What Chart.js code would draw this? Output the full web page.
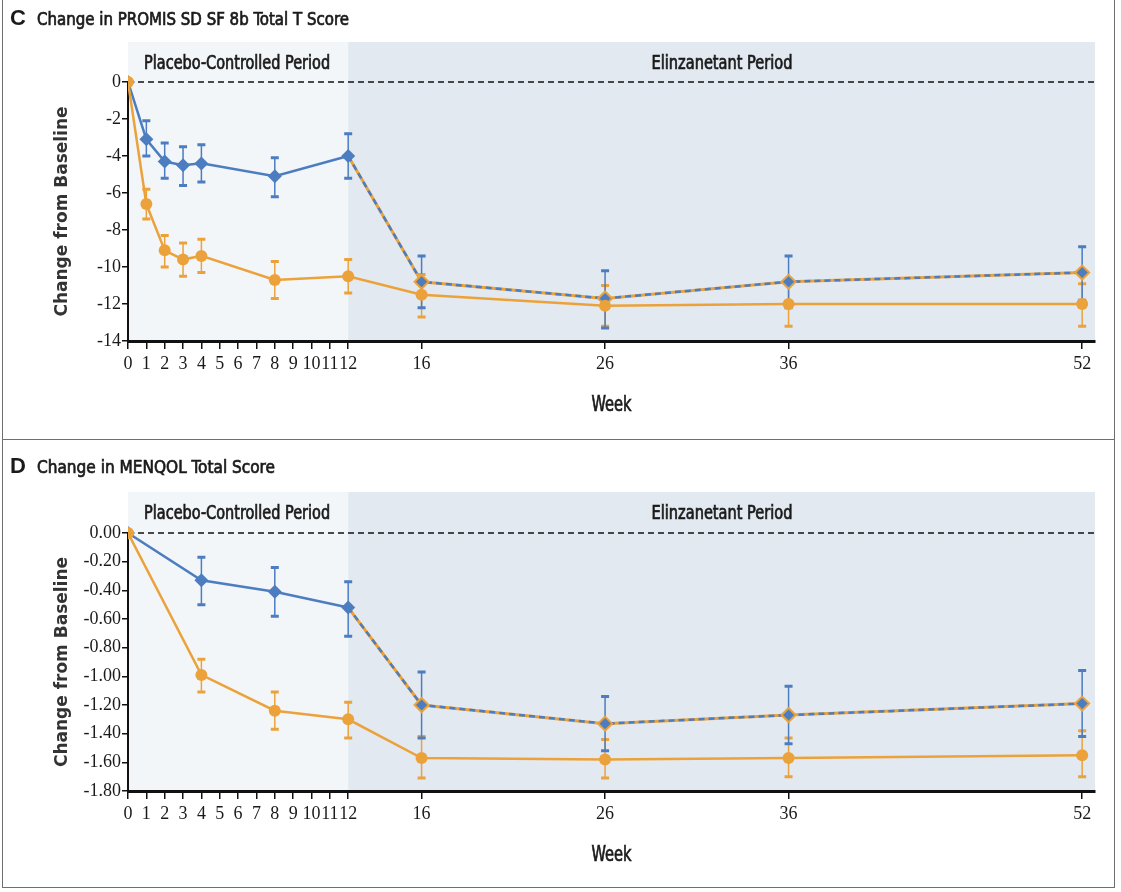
<!DOCTYPE html>
<html>
<head>
<meta charset="utf-8">
<script src="https://cdn.jsdelivr.net/npm/chart.js@4.4.0/dist/chart.umd.min.js"></script>
<style>
  body { margin: 0; background: #fff; width: 1121px; height: 892px; overflow: hidden; position: relative; }
  #moldura { position: absolute; left: 2px; top: -2px; width: 1113px; height: 890px; border: 1.5px solid #6f6f6f; box-sizing: border-box; }
  #divisor { position: absolute; left: 2px; top: 439px; width: 1113px; height: 0; border-top: 1.5px solid #6f6f6f; }
  canvas { position: absolute; left: 0; }
</style>
</head>
<body>
<div id="moldura"></div>
<div id="divisor"></div>
<canvas id="painelC" width="1121" height="440" style="top:0"></canvas>
<canvas id="painelD" width="1121" height="448" style="top:440px"></canvas>
<script>
// === DADOS ===
const semanasTicks = [0, 1, 2, 3, 4, 5, 6, 7, 8, 9, 10, 11, 12, 16, 26, 36, 52];

// Painel C - PROMIS SD SF 8b
const semanasC = [0, 1, 2, 3, 4, 8, 12, 16, 26, 36, 52];
const placeboC = [0, -3.1, -4.3, -4.5, -4.4, -5.1, -4.0, -10.8, -11.7, -10.8, -10.3];
const placeboCInf = [null, -4.0, -5.2, -5.6, -5.4, -6.2, -5.2, -12.2, -13.3, -12.2, -11.8];
const placeboCSup = [null, -2.1, -3.3, -3.5, -3.4, -4.1, -2.8, -9.4, -10.2, -9.4, -8.9];
const elinzC = [0, -6.6, -9.1, -9.6, -9.4, -10.7, -10.5, -11.5, -12.1, -12.0, -12.0];
const elinzCInf = [null, -7.4, -10.0, -10.5, -10.3, -11.7, -11.4, -12.7, -13.2, -13.2, -13.2];
const elinzCSup = [null, -5.8, -8.3, -8.7, -8.5, -9.7, -9.6, -10.4, -11.0, -10.8, -10.9];
const ticksYC = [0, -2, -4, -6, -8, -10, -12, -14];

// Painel D - MENQOL
const semanasD = [0, 4, 8, 12, 16, 26, 36, 52];
const placeboD = [0, -0.33, -0.41, -0.52, -1.20, -1.33, -1.27, -1.19];
const placeboDInf = [null, -0.50, -0.58, -0.72, -1.43, -1.52, -1.47, -1.42];
const placeboDSup = [null, -0.17, -0.24, -0.34, -0.97, -1.14, -1.07, -0.96];
const elinzD = [0, -0.99, -1.24, -1.30, -1.57, -1.58, -1.57, -1.55];
const elinzDInf = [null, -1.11, -1.37, -1.43, -1.71, -1.71, -1.70, -1.70];
const elinzDSup = [null, -0.88, -1.11, -1.18, -1.42, -1.44, -1.43, -1.38];
const ticksYD = [0, -0.2, -0.4, -0.6, -0.8, -1.0, -1.2, -1.4, -1.6, -1.8];

const azul = "#4b7dc0";
const laranja = "#eca23a";
const fonteEstreita = '"Liberation Sans Narrow", "DejaVu Sans Condensed", sans-serif';
const fonteTicks = { family: '"Liberation Serif", serif', size: 18 };

// texto "meio negrito": preenche e passa um traco fino por cima
function textoMedio(ctx, texto, x, y, larg) {
  ctx.fillText(texto, x, y, larg);
  ctx.lineWidth = 0.7;
  ctx.strokeStyle = ctx.fillStyle;
  ctx.strokeText(texto, x, y, larg);
}

// === PLUGINS ===
const decoracao = {
  id: "decoracao",
  beforeDraw(chart) {
    const { ctx, chartArea: a, scales: { x, y } } = chart;
    const x12 = x.getPixelForValue(12);
    ctx.save();
    ctx.fillStyle = "#f3f6f9";
    ctx.fillRect(a.left, a.top, x12 - a.left, a.bottom - a.top);
    ctx.fillStyle = "#e2e9f0";
    ctx.fillRect(x12, a.top, a.right - x12, a.bottom - a.top);
    const y0 = y.getPixelForValue(0);
    ctx.strokeStyle = "#111";
    ctx.lineWidth = 1.5;
    ctx.setLineDash([6, 4]);
    ctx.beginPath();
    ctx.moveTo(a.left, y0);
    ctx.lineTo(a.right, y0);
    ctx.stroke();
    ctx.restore();
  },
  beforeDatasetsDraw(chart) {
    const { ctx, chartArea: a, scales: { x, y } } = chart;
    ctx.save();
    // eixo Y so a partir do zero
    ctx.strokeStyle = "#111";
    ctx.lineWidth = 2;
    ctx.beginPath();
    ctx.moveTo(a.left, y.getPixelForValue(0));
    ctx.lineTo(a.left, a.bottom);
    ctx.stroke();

    // barras de erro
    chart.data.datasets.forEach(ds => {
      if (!ds.erroInf) return;
      ctx.strokeStyle = ds.borderColor;
      ds.data.forEach((p, i) => {
        if (ds.erroInf[i] === null) return;
        const px = x.getPixelForValue(p.x);
        const yi = y.getPixelForValue(ds.erroInf[i]);
        const ys = y.getPixelForValue(ds.erroSup[i]);
        ctx.lineWidth = 1.5;
        ctx.beginPath();
        ctx.moveTo(px, yi);
        ctx.lineTo(px, ys);
        ctx.stroke();
        ctx.lineWidth = 3;
        ctx.beginPath();
        ctx.moveTo(px - 4, yi);
        ctx.lineTo(px + 4, yi);
        ctx.moveTo(px - 4, ys);
        ctx.lineTo(px + 4, ys);
        ctx.stroke();
      });
    });
    ctx.restore();
  },
  afterDraw(chart, args, opts) {
    const { ctx, chartArea: a, scales: { x, y } } = chart;
    ctx.save();
    ctx.fillStyle = "#1a1a1a";
    ctx.textBaseline = "alphabetic";
    ctx.textAlign = "left";
    ctx.font = 'bold 22px "Liberation Sans", sans-serif';
    ctx.fillText(opts.letra, 10, opts.tituloY);
    ctx.font = "18px " + fonteEstreita;
    textoMedio(ctx, opts.titulo, 37, opts.tituloY, opts.tituloLargura);

    // rotulos dos periodos
    ctx.textAlign = "center";
    ctx.font = "19px " + fonteEstreita;
    textoMedio(ctx, "Placebo-Controlled Period", (a.left + x.getPixelForValue(12)) / 2 - 1, a.top + 27, 186);
    textoMedio(ctx, "Elinzanetant Period", 722, a.top + 27, 141);

    // titulo do eixo X
    ctx.font = "21px " + fonteEstreita;
    textoMedio(ctx, "Week", (a.left + a.right) / 2, a.bottom + 70, 40);

    // titulo do eixo Y
    const yMeio = (y.getPixelForValue(0) + a.bottom) / 2;
    ctx.translate(62, yMeio);
    ctx.rotate(-Math.PI / 2);
    ctx.textBaseline = "middle";
    ctx.fillStyle = "#333";
    ctx.font = 'bold 18px "DejaVu Sans", sans-serif';
    ctx.fillText("Change from Baseline", 0, 0, 210);
    ctx.restore();
  }
};

function pontos(semanas, valores) {
  return semanas.map((s, i) => ({ x: s, y: valores[i] }));
}

function criarPainel(id, cfg) {
  const trocado = c => c.raw && c.raw.x > 12;
  const ctx = document.getElementById(id).getContext("2d");
  return new Chart(ctx, {
    type: "line",
    data: {
      datasets: [
        {
          label: "Elinzanetant",
          data: pontos(cfg.semanas, cfg.elinz),
          borderColor: laranja,
          backgroundColor: laranja,
          borderWidth: 2.5,
          pointStyle: "circle",
          pointRadius: 6,
          pointBorderWidth: 0,
          erroInf: cfg.elinzInf,
          erroSup: cfg.elinzSup
        },
        {
          label: "Placebo",
          data: pontos(cfg.semanas, cfg.placebo),
          borderColor: azul,
          backgroundColor: azul,
          borderWidth: 2.5,
          pointStyle: "rectRot",
          pointRadius: 7,
          pointBorderColor: c => trocado(c) ? laranja : azul,
          pointBorderWidth: c => trocado(c) ? 2 : 0,
          segment: {
            borderDash: c => c.p0.parsed.x >= 12 ? [6, 4] : undefined
          },
          erroInf: cfg.placeboInf,
          erroSup: cfg.placeboSup
        },
        {
          label: "Placebo para elinzanetant",
          data: pontos(cfg.semanas, cfg.placebo).filter(p => p.x >= 12),
          borderColor: laranja,
          borderWidth: 3,
          pointRadius: 0
        }
      ]
    },
    options: {
      responsive: false,
      animation: false,
      layout: { padding: { left: 0, right: 26, top: cfg.topo, bottom: 0 } },
      plugins: {
        legend: { display: false },
        tooltip: { enabled: false },
        decoracao: {
          letra: cfg.letra,
          titulo: cfg.titulo,
          tituloY: cfg.tituloY,
          tituloLargura: cfg.tituloLargura
        }
      },
      scales: {
        x: {
          type: "linear",
          min: 0,
          max: 52.7,
          afterBuildTicks: s => { s.ticks = semanasTicks.map(v => ({ value: v })); },
          afterFit: s => { s.height = cfg.alturaEixoX; },
          ticks: {
            autoSkip: false,
            maxRotation: 0,
            padding: 4,
            color: "#1a1a1a",
            font: fonteTicks,
            callback: v => String(v)
          },
          grid: { drawOnChartArea: false, tickLength: 8, color: "#111", lineWidth: 1.5 },
          border: { display: true, color: "#111", width: 3 }
        },
        y: {
          type: "linear",
          min: cfg.ticksY[cfg.ticksY.length - 1],
          max: cfg.yMax,
          afterBuildTicks: s => { s.ticks = cfg.ticksY.map(v => ({ value: v })); },
          afterFit: s => { s.width = 128; },
          ticks: {
            padding: 1,
            color: "#1a1a1a",
            font: fonteTicks,
            callback: v => cfg.casas ? v.toFixed(cfg.casas) : String(v)
          },
          grid: { drawOnChartArea: false, tickLength: 6, color: "#111", lineWidth: 1.5 },
          border: { display: false }
        }
      }
    },
    plugins: [decoracao]
  });
}

criarPainel("painelC", {
  letra: "C",
  titulo: "Change in PROMIS SD SF 8b Total T Score",
  tituloY: 25,
  tituloLargura: 312,
  topo: 42,
  alturaEixoX: 99,
  yMax: 2.16,
  ticksY: ticksYC,
  casas: 0,
  semanas: semanasC,
  placebo: placeboC, placeboInf: placeboCInf, placeboSup: placeboCSup,
  elinz: elinzC, elinzInf: elinzCInf, elinzSup: elinzCSup
});

criarPainel("painelD", {
  letra: "D",
  titulo: "Change in MENQOL Total Score",
  tituloY: 33,
  tituloLargura: 238,
  topo: 52,
  alturaEixoX: 97,
  yMax: 0.286,
  ticksY: ticksYD,
  casas: 2,
  semanas: semanasD,
  placebo: placeboD, placeboInf: placeboDInf, placeboSup: placeboDSup,
  elinz: elinzD, elinzInf: elinzDInf, elinzSup: elinzDSup
});
</script>
</body>
</html>
